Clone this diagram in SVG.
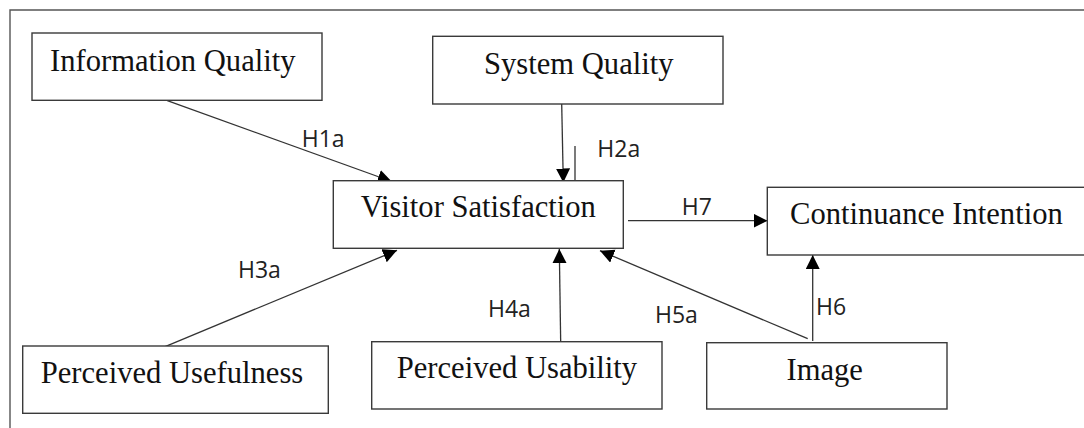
<svg xmlns="http://www.w3.org/2000/svg" width="1084" height="428" viewBox="0 0 1084 428">
  <style>
    .box { fill: #ffffff; stroke: #3a3a3a; stroke-width: 1.4; }
    .frame { fill: none; stroke: #555555; stroke-width: 1.4; }
    .name { font-family: "Liberation Serif", "Times New Roman", serif; font-size: 30.6px; fill: #111111; }
    .edge { fill: none; stroke: #333333; stroke-width: 1.3; }
    .tag { font-family: "Open Sans", "DejaVu Sans", sans-serif; font-size: 23px; fill: #222222; }
  </style>
  <defs>
    <marker id="head" markerUnits="userSpaceOnUse" markerWidth="15" markerHeight="15" refX="14" refY="7" orient="auto">
      <path d="M0,0 L14,7 L0,14 z" fill="#000000"/>
    </marker>
  </defs>

  <rect width="1084" height="428" fill="#ffffff"/>
  <!-- outer frame, open at right and bottom -->
  <path class="frame" d="M10,428 V10 H1084"/>

  <g id="connectors">
    <line class="edge" x1="167.3" y1="100.7" x2="391.7" y2="181.5" marker-end="url(#head)"/>
    <line class="edge" x1="561.7" y1="104" x2="563.3" y2="182.5" marker-end="url(#head)"/>
    <line class="edge" x1="575" y1="146" x2="575" y2="180.7"/>
    <line class="edge" x1="163.3" y1="347.3" x2="397" y2="250.3" marker-end="url(#head)"/>
    <line class="edge" x1="560.7" y1="342.5" x2="559.3" y2="249" marker-end="url(#head)"/>
    <line class="edge" x1="807.7" y1="338.7" x2="600" y2="250.7" marker-end="url(#head)"/>
    <line class="edge" x1="812.7" y1="341" x2="812.7" y2="255" marker-end="url(#head)"/>
    <line class="edge" x1="628" y1="220.7" x2="767.5" y2="220.7" marker-end="url(#head)"/>
    <text class="tag" x="301.7" y="146.7">H1a</text>
    <text class="tag" x="597.3" y="156.7">H2a</text>
    <text class="tag" x="238" y="278.3">H3a</text>
    <text class="tag" x="488" y="316.7">H4a</text>
    <text class="tag" x="655" y="323">H5a</text>
    <text class="tag" x="816" y="315">H6</text>
    <text class="tag" x="681.7" y="215">H7</text>
  </g>

  <g id="information-quality">
    <rect class="box" x="32" y="33" width="290" height="67.3"/>
    <text class="name" x="50" y="70.5">Information Quality</text>
  </g>
  <g id="system-quality">
    <rect class="box" x="432.7" y="36.3" width="290.3" height="67.7"/>
    <text class="name" x="484" y="74.3">System Quality</text>
  </g>
  <g id="visitor-satisfaction">
    <rect class="box" x="333.3" y="180.7" width="290" height="67.6"/>
    <text class="name" x="360.7" y="216.7">Visitor Satisfaction</text>
  </g>
  <g id="continuance-intention">
    <rect class="box" x="767.3" y="187.3" width="330" height="67.7"/>
    <text class="name" x="790" y="224">Continuance Intention</text>
  </g>
  <g id="perceived-usefulness">
    <rect class="box" x="22.7" y="346" width="305.6" height="67.3"/>
    <text class="name" x="40.7" y="383">Perceived Usefulness</text>
  </g>
  <g id="perceived-usability">
    <rect class="box" x="371.7" y="341.7" width="290.3" height="67.3"/>
    <text class="name" x="396.7" y="377.7">Perceived Usability</text>
  </g>
  <g id="image">
    <rect class="box" x="706.7" y="342.7" width="240.3" height="66.3"/>
    <text class="name" x="824.7" y="380" text-anchor="middle">Image</text>
  </g>
</svg>
